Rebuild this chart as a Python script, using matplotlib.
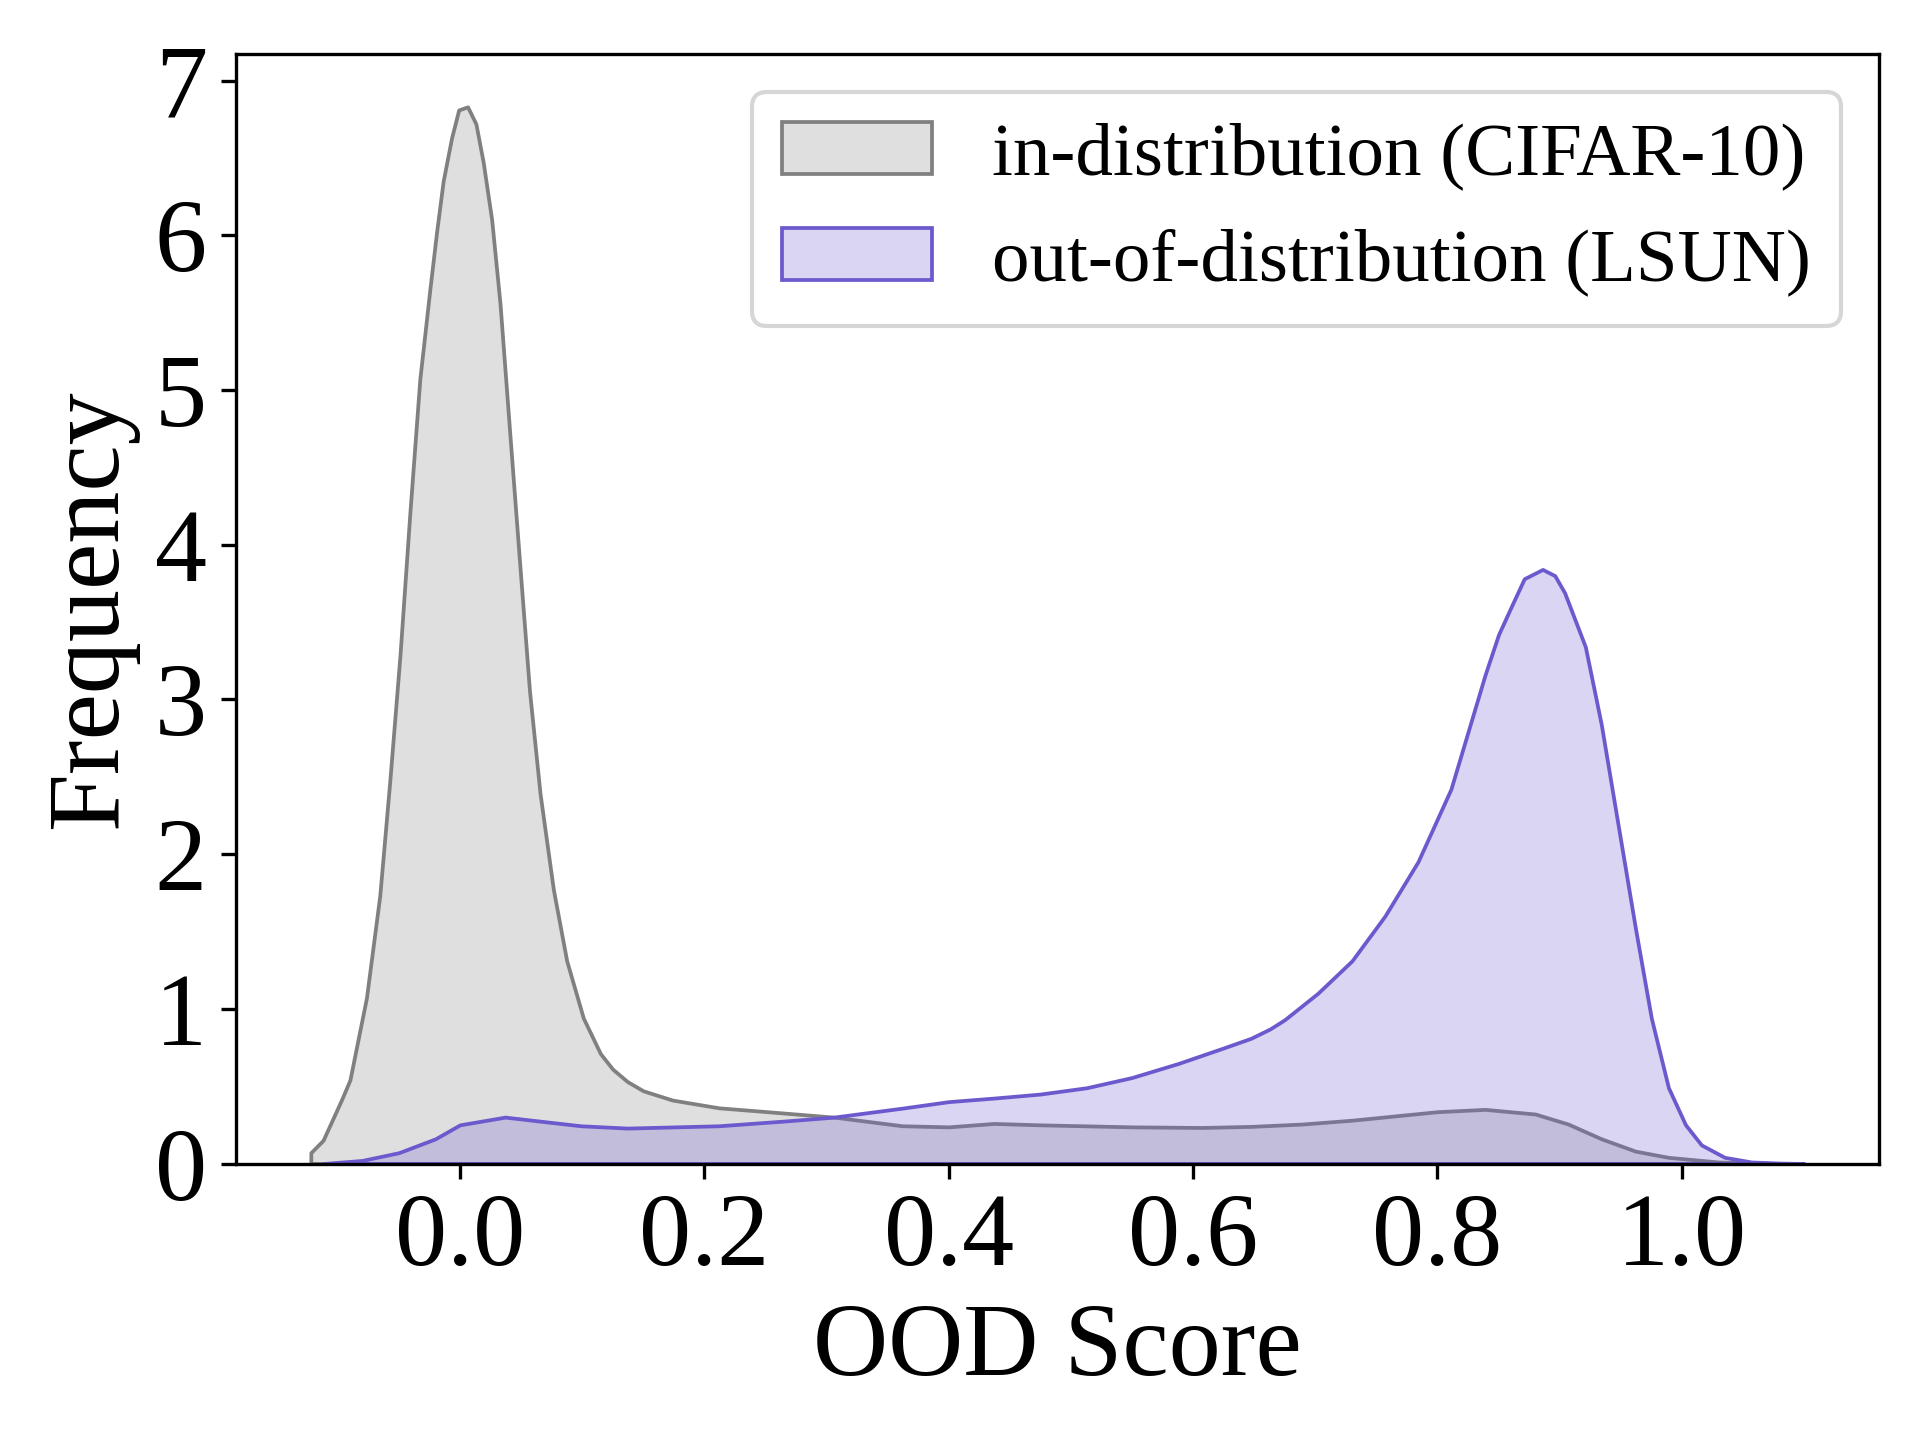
import numpy as np
import matplotlib
matplotlib.use("Agg")
import matplotlib.pyplot as plt
from matplotlib.colors import to_rgba

# density curves (OOD score -> frequency)
ind_label = "in-distribution (CIFAR-10)"
ind_x = [-0.122, -0.112, -0.097, -0.090, -0.0765, -0.0656, -0.0574, -0.049,
         -0.041, -0.0328, -0.0246, -0.0191, -0.0137, -0.0068, -0.001, 0.0063,
         0.0131, 0.0191, 0.026, 0.0328, 0.041, 0.049, 0.057, 0.0656, 0.0765,
         0.0874, 0.101, 0.115, 0.125, 0.137, 0.150, 0.174, 0.212, 0.250,
         0.306, 0.362, 0.400, 0.437, 0.475, 0.550, 0.607, 0.6475, 0.689,
         0.730, 0.800, 0.839, 0.880, 0.907, 0.934, 0.962, 0.989, 1.030,
         1.060, 1.085]
ind_y = [0.07, 0.15, 0.41, 0.54, 1.07, 1.73, 2.47, 3.29,
         4.20, 5.07, 5.65, 6.02, 6.35, 6.63, 6.81, 6.83,
         6.72, 6.47, 6.10, 5.56, 4.70, 3.87, 3.05, 2.39, 1.77,
         1.31, 0.94, 0.71, 0.61, 0.53, 0.47, 0.41, 0.36, 0.336,
         0.30, 0.244, 0.237, 0.259, 0.25, 0.237, 0.233, 0.24, 0.255,
         0.28, 0.335, 0.35, 0.32, 0.255, 0.16, 0.08, 0.04, 0.01,
         0.003, 0.0]

ood_label = "out-of-distribution (LSUN)"
ood_x = [-0.112, -0.08, -0.05, -0.02, 0.0, 0.037, 0.07, 0.099, 0.137, 0.212,
         0.268, 0.306, 0.362, 0.400, 0.437, 0.475, 0.513, 0.550, 0.588,
         0.626, 0.6475, 0.663, 0.675, 0.702, 0.730, 0.757, 0.784, 0.811,
         0.839, 0.850, 0.861, 0.871, 0.886, 0.896, 0.904, 0.921, 0.934,
         0.948, 0.962, 0.975, 0.989, 1.003, 1.016, 1.035, 1.057, 1.08, 1.100]
ood_y = [0.0, 0.02, 0.07, 0.16, 0.25, 0.30, 0.27, 0.244, 0.229, 0.244,
         0.276, 0.30, 0.358, 0.40, 0.423, 0.449, 0.49, 0.556, 0.647,
         0.75, 0.81, 0.87, 0.93, 1.10, 1.31, 1.60, 1.95, 2.42,
         3.16, 3.42, 3.61, 3.78, 3.84, 3.80, 3.69, 3.34, 2.84,
         2.18, 1.52, 0.94, 0.49, 0.25, 0.12, 0.04, 0.01, 0.003, 0.0]

series = [(ind_x, ind_y, "gray", ind_label),
          (ood_x, ood_y, "slateblue", ood_label)]

plt.rcParams.update({
    "font.family": ["Liberation Serif", "DejaVu Serif"],
    "font.size": 25,
    "axes.linewidth": 0.8,
})

fig, ax = plt.subplots(figsize=(6.4, 4.8), dpi=300)
fig.subplots_adjust(left=0.123, right=0.9785, bottom=0.192, top=0.9625)

for xs, ys, c, lab in series:
    ax.fill_between(xs, ys, 0, facecolor=to_rgba(c, 0.25), edgecolor=c,
                    linewidth=0.9, label=lab)

ax.set_ylim(bottom=0)
ax.set_xticks([0.0, 0.2, 0.4, 0.6, 0.8, 1.0])
ax.set_yticks(range(8))
ax.set_xlabel("OOD Score")
ax.set_ylabel("Frequency")
ax.legend(loc="upper right", fontsize=18)

fig.savefig("out.png", dpi=300)
